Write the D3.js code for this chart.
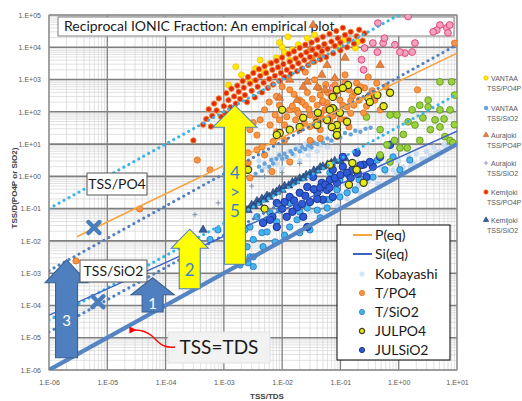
<!DOCTYPE html>
<html>
<head>
<meta charset="utf-8">
<script src="https://cdn.jsdelivr.net/npm/d3@7"></script>
<style>
body { margin: 0; background: #fff; }
svg text { font-family: "Liberation Sans", Arial, sans-serif; }
.note { font-family: Lato, "Open Sans", sans-serif; }
</style>
</head>
<body>
<svg id="chart" width="522" height="401"></svg>
<script>
// tick values
var xTicks = [1e-6, 1e-5, 1e-4, 1e-3, 1e-2, 1e-1, 1, 10];
var yTicks = [1e-6, 1e-5, 1e-4, 1e-3, 1e-2, 1e-1, 1, 10, 100, 1e3, 1e4, 1e5];

// points: [TSS/TDS, TSS/D]
var kemijokiPO4 = [
  [3e-4,13],[4.4e-4,40],[5e-4,60],[5.5e-4,120],[6e-4,35],[6.3e-4,75],[6.8e-4,180],[7.5e-4,110],[8.2e-4,260],[9e-4,70],
  [1e-3,150],[1.05e-3,90],[1.1e-3,380],[1.2e-3,230],[1.3e-3,140],[1.35e-3,520],[1.5e-3,300],[1.6e-3,180],[1.7e-3,650],[1.8e-3,420],
  [1.9e-3,250],[2.1e-3,900],[2.2e-3,560],[2.3e-3,330],[2.5e-3,200],[2.6e-3,1200],[2.8e-3,750],[3e-3,450],[3.2e-3,1600],[3.4e-3,280],
  [3.5e-3,950],[3.8e-3,600],[4e-3,2100],[4.2e-3,1300],[4.5e-3,400],[4.8e-3,800],[5e-3,2600],[5.3e-3,1600],[5.7e-3,550],[6e-3,1050],
  [6.5e-3,3200],[6.8e-3,2000],[7e-3,700],[7.5e-3,1300],[8e-3,3800],[8.5e-3,2400],[9e-3,900],[9.5e-3,1600],[1e-2,4800],[1.05e-2,3000],
  [1.1e-2,1200],[1.2e-2,2000],[1.3e-2,6200],[1.35e-2,3600],[1.4e-2,1500],[1.5e-2,2500],[1.6e-2,7500],[1.7e-2,4500],[1.8e-2,1800],[1.9e-2,3200],
  [2e-2,9500],[2.1e-2,5600],[2.2e-2,2200],[2.4e-2,4000],[2.5e-2,12000],[2.6e-2,7000],[2.8e-2,2800],[3e-2,5000],[3.2e-2,14000],[3.3e-2,8500],
  [3.5e-2,3500],[3.8e-2,6000],[4e-2,17000],[4.2e-2,10000],[4.5e-2,4200],[4.8e-2,7500],[5e-2,21000],[5.3e-2,12500],[5.7e-2,5000],[6e-2,9000],
  [6.5e-2,26000],[7e-2,15000],[7.5e-2,6500],[8e-2,11000],[8.5e-2,32000],[9e-2,19000],[0.1,8000],[0.1,14000],[0.11,40000],[0.12,24000],
  [0.13,10000],[0.14,17000],[0.15,30000],[0.17,13000],[0.19,22000],[0.21,35000],[0.24,16000],[0.26,27000]
];
var vantaaPO4 = [
  [1.2e-3,680],[2e-3,1400],[2.8e-3,850],[4.2e-3,4000],[5e-3,1700],[6.2e-3,3200],[8e-3,4700],[9e-3,14000],[1e-2,10000],[1.1e-2,7000],
  [1.26e-2,21000],[1.35e-2,4000],[1.5e-2,8300],[1.9e-2,12000],[2.7e-2,19000],[3.6e-2,24000],[9e-2,10000],[0.12,17000],[0.18,9500],[0.2,15000],
  [1.6e-3,2500],[3.5e-3,2200]
];
var aurajokiPO4 = [
  [3e-2,8300],[4.8e-2,5800],[3.4e-2,4000],[5.9e-2,2800],[4.8e-2,1400],[2.7e-2,850],[4e-2,590],[1.8e-2,230],[2.3e-2,590],[9e-3,270],
  [1.35e-2,980],[8e-2,1100],[0.12,4700],[5.4e-2,480],[0.48,2800],[3.4e-2,49000]
];
var pinkSet = [
  [1.45,90000],[0.44,56000],[0.54,13500],[0.26,9500],[0.25,2000],[0.43,7100],[1.28,6600],[1.7,7100],[1.9,13500],[5.1,49000],
  [6.7,40000],[4.5,34000],[7.5,49000],[7,28000],[3.9,30000],[0.57,19000],[0.36,13500],[0.23,4100],[0.86,12000],[1.05,7100],
  [7.4e-2,550],[5e-2,200]
];
var tPO4 = [
  [2.9e-6,2.4e-3],[3.6e-5,0.098],[3.5e-4,3.2],[5.8e-4,1.6],[2.6e-3,2.6],[2.8e-3,0.9],[3.7e-3,6.6],[4.5e-3,8.2],[5e-3,4.6],[6.7e-3,1.4],
  [1.35e-2,2.8],[2.8e-3,28],[3.7e-3,19],[3.2e-3,46],[2.6e-3,5.4],[9e-3,56],[8.1e-3,24],[5.9e-2,190],[0.19,780],[0.42,780],
  [0.71,390],[2.1,480],[0.13,140],[0.25,93],[0.14,34],[8.7e-2,17],[1.35e-2,115],[2e-2,230],[3e-2,80],[4.5e-2,330],
  [6.6e-2,56],[9.8e-2,230],[0.14,480],[0.21,230],[0.32,330],[2e-2,28],[3e-2,13],[4.5e-2,28],[1.1e-2,13],[6.2e-3,39],
  [1.7e-2,56],[3.6e-2,39],[5.4e-2,115],[8.1e-2,680],[0.12,1400],[0.26,550],[0.39,230],[0.48,115],[1.35e-2,480],[2.5e-2,1700],
  [3.6e-2,980],[9e-3,160],[5e-3,115],[4.2e-3,56],[9.1,13500],[2.5e-2,160],[8.1e-2,115],[0.12,56],[0.17,160],[1.1e-2,39],
  [7.6e-3,80],[6e-2,400],[0.1,60],[4e-2,160],[1.8e-2,110],[0.3,1200],[0.6,600],[0.08,330],[0.16,300],[0.05,60],
  [0.022,70],[0.007,12],[0.045,15],[0.03,35],
  [1.2e-2,70],[1.5e-2,150],[1.6e-2,350],[1.9e-2,90],[2.2e-2,200],[2.4e-2,45],[2.7e-2,400],[2.9e-2,120],[3.3e-2,250],[3.8e-2,60],
  [4.2e-2,550],[4.6e-2,90],[5e-2,220],[5.6e-2,700],[6.2e-2,140],[7e-2,300],[7.5e-2,75],[9e-2,450],[0.11,160],[0.12,800],
  [0.15,90],[0.18,400],[0.22,600],[0.28,150],[0.35,450],[0.15,220],[8e-3,300],[6e-3,200],[1e-2,600]
];
var julPO4 = [
  [0.135,680],[8.7e-2,480],[7.4e-2,130],[0.43,330],[0.71,390],[0.3,270],[0.13,49],[8.7e-2,28],[0.32,200],[0.11,550],
  [7.4e-2,290],[6.6e-2,115],[9.8e-2,93],[4.1e-2,93],[4e-2,46],[5.9e-2,56],[8.7e-2,39],[2.3e-2,65],[9.1e-3,22],[8.1e-3,19],
  [1.35e-2,28],[2e-2,34],[4e-2,39],[7.1e-2,34],[8.7e-2,19],[2.6e-3,1.6],[6.6e-2,2.3],[5e-3,0.1],[0.25,0.63],[0.14,0.55],
  [0.19,1.6],[0.16,2.6],[1e-2,115],[0.2,450],[0.55,150]
];
var limeSet = [
  [5.1,850],[3.2,230],[2.3,160],[1.7,115],[0.93,80],[0.71,80],[1.45,49],[1.9,39],[2.6,65],[3.5,28],
  [5.1,34],[6.2,17],[7.6,13],[8.5,11],[5.1,115],[7.6,115],[0.28,69],[0.48,28],[0.85,13],[1.05,7.6],
  [0.63,9.5],[0.48,4.6],[0.71,2.8],[1.4,7.6],[8.1,850],[3.2,140],[2.3,13],[4.2,56],[9.1,330],[6,60],
  [9,40],[1.2,20]
];
var kobayashi = [
  [4e-3,3],[5e-3,2],[5e-3,5],[6e-3,1.5],[7e-3,3.5],[8e-3,2.5],[9e-3,5],[1e-2,1.8],[1.1e-2,3.5],[1.3e-2,6],
  [1.4e-2,2.5],[1.6e-2,4.5],[1.8e-2,8],[2e-2,3],[2.2e-2,6],[2.5e-2,10],[2.8e-2,4.5],[3e-2,7],[3.5e-2,12],[4e-2,6],
  [4.5e-2,9],[5e-2,15],[6e-2,8],[7e-2,12],[8e-2,18],[0.1,0.3],[0.12,0.6],[0.15,0.4],[0.18,0.9],[0.2,0.5],
  [0.25,1.2],[0.3,0.7],[0.35,1.5],[0.4,1],[0.5,2],[0.6,1.3],[0.7,2.5],[0.8,1.6],[1,3],[1.2,2],
  [1.5,4],[1.8,2.5],[2,5],[2.5,3.5],[3,6],[3.5,4.5],[4,8],[5,6],[6,10],[7,8],
  [8,12],[3e-2,0.08],[5e-2,0.15],[7e-2,0.2],[0.09,0.12],[0.13,0.2],[0.22,0.3],[0.45,0.6],[0.9,1.2],[1.6,2],
  [2.8,3.5],[4.5,5.5],[6.5,7]
];
var vantaaSiO2 = [
  [3.5e-3,1.2],[4e-3,2],[4.5e-3,1.5],[5e-3,2.5],[6e-3,2],[6.5e-3,3.2],[7e-3,2.5],[8e-3,3.5],[9e-3,4.5],[1e-2,3.5],
  [1.1e-2,5],[1.2e-2,4],[1.4e-2,6],[1.5e-2,5],[1.7e-2,7],[2e-2,6],[2.2e-2,8],[2.5e-2,7],[2.8e-2,9],[3.2e-2,8],
  [3.5e-2,11],[4e-2,10],[4.5e-2,13],[5e-2,11],[6e-2,15],[7e-2,13],[8e-2,18],[0.1,16],[0.12,22],[0.15,20],
  [0.18,26],[0.22,24],[0.27,30],[0.33,32]
];
var kemijokiSiO2 = [
  [4.4e-4,0.022],[2e-3,0.07],[2.3e-3,0.1],[2.6e-3,0.09],[3e-3,0.13],[3.3e-3,0.12],[3.7e-3,0.17],[4e-3,0.15],[4.5e-3,0.2],[5e-3,0.19],
  [5.5e-3,0.25],[6e-3,0.23],[7e-3,0.3],[8e-3,0.33],[9e-3,0.4],[1e-2,0.38],[1.1e-2,0.5],[1.3e-2,0.52],[1.5e-2,0.65],[1.7e-2,0.7],
  [2e-2,0.85],[2.3e-2,0.9],[2.6e-2,1.1],[3e-2,1.2],[3.5e-2,1.5],[4e-2,1.5],[4.5e-2,1.9],[5e-2,2],[6e-2,2.3],[7e-2,2.6],
  [8e-2,3],[0.1,3],[0.12,3.6]
];
var tSiO2 = [
  [6.2e-3,0.074],[8.1e-3,0.039],[1.35e-2,0.027],[1.8e-2,0.045],[2.7e-2,0.105],[4e-2,0.09],[5.9e-2,0.19],[9.8e-2,0.23],[3.7e-3,0.056],[2.8e-3,0.027],
  [4.5e-3,0.018],[4.7e-3,6.6e-3],[3.2e-3,0.011],[2.1e-3,6.2e-3],[1.7e-3,3.2e-3],[2.8e-3,3.2e-3],[5.5e-3,0.019],[2e-2,0.018],[3e-2,0.022],[5.9e-2,0.105],
  [7.9e-4,0.022],[5.8e-4,0.011],[5.5e-3,0.045],[9.1e-3,0.09],[1.35e-2,0.15],[6.6e-2,1.3],[9.8e-2,0.78],[0.145,0.95],[0.21,0.78],[0.36,0.95],
  [8.7e-2,0.38],[0.13,0.31],[6.6e-2,0.19],[0.43,3.2],[0.8,4],[0.36,2.6],[1.05,1.6],[2.3e-3,0.022],[2.5e-3,6.6e-3],[3.2e-3,3.2e-3],
  [2.6e-3,2.1e-3],[3.2e-3,1.6e-3],[2.3e-4,3.7e-3],[4.5e-2,0.052],[1.1e-2,0.015],[7.6e-3,9.3e-3],[2e-2,0.079],[0.18,0.38],[0.58,1.6],[1.55,3.2],
  [1.3e-3,6.2e-3],[1.9e-3,1.8e-3]
];
var julSiO2 = [
  [3.4e-2,0.96],[4.8e-2,0.63],[6.6e-2,0.78],[2.7e-2,0.47],[2e-2,0.31],[4e-2,0.31],[5.9e-2,0.38],[1.35e-2,0.23],[8.1e-3,0.15],[1e-2,0.1],
  [1.8e-2,0.11],[3e-2,0.16],[5e-2,0.19],[7.4e-2,0.23],[6.8e-3,0.056],[1.2e-2,0.056],[2.3e-2,0.056],[4.7e-3,0.036],[8.1e-3,0.027],[6.2e-3,0.045],
  [2.7e-2,0.027],[7.4e-2,1.6],[0.11,2],[0.16,1.6],[0.25,2.3],[0.36,2],[0.48,4],[0.71,9.5],[0.28,0.96],[8.7e-2,0.63],
  [0.11,4],[0.19,5.4],[0.32,2.8],[1.6e-2,0.18],[2.5e-2,0.25],[3.5e-2,0.4],[4.5e-2,0.45],[5.5e-2,0.55],[6.5e-2,0.45],[8e-2,0.9],
  [0.1,1.1],[0.13,1.3],[0.15,0.9],[0.2,1.2],[0.22,2.2],[1.1e-2,0.16],[1.5e-2,0.08],[2.2e-2,0.14],[4e-2,0.2]
];
var aurajokiSiO2 = [
  [3.2e-4,0.065],[8e-4,0.15],[1.5e-3,0.35],[3e-3,0.5],[5e-3,1],[1e-2,1.3],[2e-2,2.5]
];

// reference lines: [start, end]
var lineTSSTDS = [[1e-6,1e-6],[10,10]];
var lineSiEq = [[1e-6,5e-5],[10,25]];
var linePEq = [[3e-6,0.0135],[10,6600]];
var dotLightTop = [[1e-6,0.1],[1,1e5]];
var dotLightLow = [[1e-6,3.5e-5],[10,350]];
var dotSteelTop = [[1e-6,1.2e-3],[10,1.2e4]];
var dotSteelLow = [[1e-6,1.5e-5],[1e-2,0.15]];

// annotation crosses and block arrows (data coordinates)
var crossMarks = [[5.9e-6,0.026],[6.9e-6,1.3e-4]];
var arrowSpecs = [
  {x: 2e-6, from: 2.4e-6, to: 2.6e-3, label: ['3'], kind: 'blue', shaft: 22, head: 43, headLen: 23},
  {x: 6e-5, from: 6.3e-5, to: 7.2e-4, label: ['1'], kind: 'blue', shaft: 21, head: 43, headLen: 17},
  {x: 2.6e-4, from: 3.3e-4, to: 0.023, label: ['2'], kind: 'yellow', shaft: 21, head: 37, headLen: 19},
  {x: 1.55e-3, from: 1.9e-3, to: 160, label: ['4', '>', '5'], kind: 'yellow', shaft: 21, head: 44, headLen: 22}
];

var svg = d3.select('#chart');
var plotLeft = 49, plotRight = 457, plotTop = 15, plotBottom = 370;

var x = d3.scaleLog().domain([1e-6, 10]).range([plotLeft, plotRight]);
var y = d3.scaleLog().domain([1e-6, 1e5]).range([plotBottom, plotTop]);

function fmtE(v){
    var e = Math.round(Math.log10(v));
    var a = Math.abs(e);
    return '1.E' + (e < 0 ? '-' : '+') + (a < 10 ? '0' : '') + a;
}

function minorValues(ticks){
    var out = [];
    ticks.slice(0, -1).forEach(function(t){
        for (var m = 2; m < 10; m++) out.push(t * m);
    });
    return out;
}

svg.append('rect').attr('width', 522).attr('height', 401).attr('fill', '#fff');

svg.append('defs').append('clipPath').attr('id', 'plotclip')
    .append('rect').attr('x', plotLeft).attr('y', plotTop)
    .attr('width', plotRight - plotLeft).attr('height', plotBottom - plotTop);

// grid
var grid = svg.append('g');
grid.selectAll('line.vmin').data(minorValues(xTicks)).enter().append('line')
    .attr('x1', x).attr('x2', x).attr('y1', plotTop).attr('y2', plotBottom)
    .attr('stroke', '#d4d4d4').attr('stroke-width', 0.7);
grid.selectAll('line.hmin').data(minorValues(yTicks)).enter().append('line')
    .attr('y1', y).attr('y2', y).attr('x1', plotLeft).attr('x2', plotRight)
    .attr('stroke', '#d4d4d4').attr('stroke-width', 0.7);
grid.selectAll('line.vmaj').data(xTicks).enter().append('line')
    .attr('x1', x).attr('x2', x).attr('y1', plotTop).attr('y2', plotBottom)
    .attr('stroke', '#7f7f7f').attr('stroke-width', 1.3);
grid.selectAll('line.hmaj').data(yTicks).enter().append('line')
    .attr('y1', y).attr('y2', y).attr('x1', plotLeft).attr('x2', plotRight)
    .attr('stroke', '#7f7f7f').attr('stroke-width', 1.6);
grid.append('rect').attr('x', plotLeft).attr('y', plotTop)
    .attr('width', plotRight - plotLeft).attr('height', plotBottom - plotTop)
    .attr('fill', 'none').attr('stroke', '#9a9a9a').attr('stroke-width', 1);

// axes
var xAxis = svg.append('g').attr('transform', 'translate(0,' + (plotBottom + 7) + ')')
    .call(d3.axisBottom(x).tickValues(xTicks).tickFormat(fmtE).tickSize(0));
var yAxis = svg.append('g').attr('transform', 'translate(' + (plotLeft - 5) + ',0)')
    .call(d3.axisLeft(y).tickValues(yTicks).tickFormat(fmtE).tickSize(0));
[xAxis, yAxis].forEach(function(a){
    a.select('.domain').remove();
    a.selectAll('text').attr('fill', '#595959')
        .style('font-family', '"Liberation Sans Narrow", "Liberation Sans", sans-serif')
        .style('font-size', '7px');
});

svg.append('text').attr('x', 267).attr('y', 399).attr('text-anchor', 'middle')
    .attr('font-size', 8).attr('font-weight', 'bold').attr('fill', '#404040')
    .text('TSS/TDS');
svg.append('text').attr('transform', 'translate(17,188) rotate(-90)')
    .attr('text-anchor', 'middle').attr('font-size', 8).attr('font-weight', 'bold')
    .attr('fill', '#404040').text('TSS/D(PO4P or SiO2)');

// title box
svg.append('rect').attr('x', 58).attr('y', 17).attr('width', 396).attr('height', 19)
    .attr('fill', '#fff').attr('stroke', '#7f7f7f').attr('stroke-width', 1);
svg.append('text').attr('class', 'note').attr('x', 64).attr('y', 31)
    .attr('font-size', 14).attr('fill', '#1a1a1a')
    .text('Reciprocal IONIC Fraction: An empirical plot');

// marker styles
var styles = {
    kobayashi:  {shape: 'circle', r: 2.6, fill: '#c8ddf2', stroke: 'none', sw: 0},
    vantaaSiO2: {shape: 'circle', r: 2.2, fill: '#6aa3d8', stroke: 'none', sw: 0},
    aurajokiSiO2: {shape: 'plus', r: 2.5, fill: 'none', stroke: '#7f8fa6', sw: 1},
    tSiO2:      {shape: 'circle', r: 3.2, fill: '#41b6ee', stroke: '#2872c0', sw: 0.8},
    kemijokiSiO2: {shape: 'triangle', r: 3.4, fill: '#36609e', stroke: '#1f3864', sw: 0.6},
    julSiO2:    {shape: 'circle', r: 3.7, fill: '#2f5ad8', stroke: '#1b3590', sw: 1},
    limeSet:    {shape: 'circle', r: 3.4, fill: '#9bd040', stroke: '#5f9a1c', sw: 0.9},
    pinkSet:    {shape: 'circle', r: 3.4, fill: '#f4a2bd', stroke: '#df467c', sw: 1},
    tPO4:       {shape: 'circle', r: 3.1, fill: '#f7964a', stroke: '#e36c0a', sw: 0.8},
    aurajokiPO4: {shape: 'triangle', r: 3.4, fill: '#e8823c', stroke: '#b85a1c', sw: 0.6},
    vantaaPO4:  {shape: 'circle', r: 3, fill: '#ffe900', stroke: '#f0c000', sw: 0.8},
    kemijokiPO4: {shape: 'circle', r: 2.7, fill: '#e2290b', stroke: '#f4822e', sw: 0.9},
    julPO4:     {shape: 'circle', r: 3.6, fill: '#e4ea1c', stroke: '#3d3d1a', sw: 1.2}
};

var layers = [
    [kobayashi, styles.kobayashi],
    [vantaaSiO2, styles.vantaaSiO2],
    [aurajokiSiO2, styles.aurajokiSiO2],
    [tSiO2, styles.tSiO2],
    [kemijokiSiO2, styles.kemijokiSiO2],
    [julSiO2, styles.julSiO2],
    [limeSet, styles.limeSet],
    [pinkSet, styles.pinkSet],
    [vantaaPO4, styles.vantaaPO4],
    [tPO4, styles.tPO4],
    [aurajokiPO4, styles.aurajokiPO4],
    [kemijokiPO4, styles.kemijokiPO4],
    [julPO4, styles.julPO4]
];

function markerPath(st){
    if (st.shape === 'plus') {
        return 'M' + (-st.r) + ',0H' + st.r + 'M0,' + (-st.r) + 'V' + st.r;
    }
    if (st.shape === 'triangle') {
        return d3.symbol().type(d3.symbolTriangle).size(st.r * st.r * 2.6)();
    }
    return d3.symbol().type(d3.symbolCircle).size(Math.PI * st.r * st.r)();
}

function drawMarkers(g, data, st){
    g.append('g').selectAll('path').data(data).enter().append('path')
        .attr('d', markerPath(st))
        .attr('transform', function(d){ return 'translate(' + x(d[0]) + ',' + y(d[1]) + ')'; })
        .attr('fill', st.fill).attr('stroke', st.stroke).attr('stroke-width', st.sw);
}

var plot = svg.append('g').attr('clip-path', 'url(#plotclip)');
layers.forEach(function(l){ drawMarkers(plot, l[0], l[1]); });

// lines
var lineGen = d3.line().x(function(d){ return x(d[0]); }).y(function(d){ return y(d[1]); });
function drawLine(pts, color, width, dotted){
    var p = plot.append('path').attr('d', lineGen(pts)).attr('fill', 'none')
        .attr('stroke', color).attr('stroke-width', width);
    if (dotted) p.attr('stroke-dasharray', '0.1,5.6').attr('stroke-linecap', 'round');
    return p;
}
drawLine(dotLightTop, '#38b4e6', 3, true);
drawLine(dotLightLow, '#38b4e6', 3, true);
drawLine(dotSteelTop, '#4f7fbd', 3, true);
drawLine(dotSteelLow, '#4f7fbd', 3, true);
drawLine(linePEq, '#f5a443', 1.6, false);
drawLine(lineSiEq, '#3d62c8', 1.4, false);
drawLine(lineTSSTDS, '#5585c2', 4.2, false);

// crosses
crossMarks.forEach(function(d){
    var cx = x(d[0]), cy = y(d[1]), s = 5.5;
    plot.append('path')
        .attr('d', 'M' + (cx - s) + ',' + (cy - s) + 'L' + (cx + s) + ',' + (cy + s) +
                   'M' + (cx + s) + ',' + (cy - s) + 'L' + (cx - s) + ',' + (cy + s))
        .attr('stroke', '#4a7ebb').attr('stroke-width', 4.5).attr('stroke-linecap', 'round');
});

// block arrows
function arrowPath(cx, yb, yt, sw, hw, hl){
    return 'M' + (cx - sw / 2) + ',' + yb + 'V' + (yt + hl) + 'H' + (cx - hw / 2) +
        'L' + cx + ',' + yt + 'L' + (cx + hw / 2) + ',' + (yt + hl) +
        'H' + (cx + sw / 2) + 'V' + yb + 'Z';
}
arrowSpecs.forEach(function(a){
    var cx = x(a.x), yb = y(a.from), yt = y(a.to);
    var blue = a.kind === 'blue';
    svg.append('path').attr('d', arrowPath(cx, yb, yt, a.shaft, a.head, a.headLen))
        .attr('fill', blue ? '#4f7fbe' : '#ffff00')
        .attr('stroke', blue ? '#3a6394' : '#4f7fbd').attr('stroke-width', 1.1);
    var n = a.label.length;
    var mid = blue ? (yt + a.headLen + yb) / 2 : (n > 1 ? 192 : (yt + a.headLen + yb) / 2 + 2);
    a.label.forEach(function(t, i){
        svg.append('text').attr('class', 'note')
            .attr('x', cx).attr('y', mid + (i - (n - 1) / 2) * 19 + 6)
            .attr('text-anchor', 'middle').attr('font-size', blue ? 15 : 17)
            .attr('fill', blue ? '#ffffff' : '#3b7fcc').text(t);
    });
});

// labelled boxes
function noteBox(bx, by, bw, bh, label, size, fill, stroke){
    svg.append('rect').attr('x', bx).attr('y', by).attr('width', bw).attr('height', bh)
        .attr('fill', fill).attr('stroke', stroke).attr('stroke-width', 1);
    svg.append('text').attr('class', 'note').attr('x', bx + bw / 2).attr('y', by + bh / 2 + size * 0.36)
        .attr('text-anchor', 'middle').attr('font-size', size).attr('fill', '#1a1a1a').text(label);
}
noteBox(87, 173, 60, 22, 'TSS/PO4', 14, '#fff', '#555');
noteBox(80, 260, 67, 22, 'TSS/SiO2', 14, '#fff', '#555');
noteBox(168, 332, 102, 31, 'TSS=TDS', 19, '#f2f2f2', '#e0e0e0');

// red pointer
svg.append('defs').append('marker').attr('id', 'redhead')
    .attr('viewBox', '0 0 10 10').attr('refX', 2).attr('refY', 5)
    .attr('markerWidth', 5).attr('markerHeight', 5).attr('orient', 'auto')
    .append('path').attr('d', 'M10,0L0,5L10,10Z').attr('fill', '#ff0000');
svg.append('path').attr('d', 'M175,347 C162,349 158,341 152,336 C146,331 141,330 135,330')
    .attr('fill', 'none').attr('stroke', '#ff0000').attr('stroke-width', 1.4)
    .attr('marker-end', 'url(#redhead)');

// inner legend
var innerLegend = [
    {label: 'P(eq)', line: '#f5a443'},
    {label: 'Si(eq)', line: '#3d62c8'},
    {label: 'Kobayashi', st: styles.kobayashi},
    {label: 'T/PO4', st: styles.tPO4},
    {label: 'T/SiO2', st: styles.tSiO2},
    {label: 'JULPO4', st: styles.julPO4},
    {label: 'JULSiO2', st: styles.julSiO2}
];
var innerY = [235, 254, 274, 293, 312, 331, 350];
svg.append('rect').attr('x', 337).attr('y', 225).attr('width', 113).attr('height', 135)
    .attr('fill', '#fff').attr('stroke', '#000').attr('stroke-width', 1);
innerLegend.forEach(function(item, i){
    var ly = innerY[i];
    if (item.line) {
        svg.append('line').attr('x1', 353).attr('x2', 372).attr('y1', ly).attr('y2', ly)
            .attr('stroke', item.line).attr('stroke-width', 2);
    } else {
        var st = Object.assign({}, item.st, {r: 2.6});
        svg.append('path').attr('d', markerPath(st)).attr('transform', 'translate(362,' + ly + ')')
            .attr('fill', st.fill === '#c8ddf2' ? '#d6e6f5' : st.fill)
            .attr('stroke', st.stroke).attr('stroke-width', st.sw);
    }
    svg.append('text').attr('class', 'note').attr('x', 375).attr('y', ly + 5)
        .attr('font-size', 14).attr('fill', '#1a1a1a').text(item.label);
});

// outer legend
var outerLegend = [
    {l1: 'VANTAA', l2: 'TSS/PO4P', y: 78, st: styles.vantaaPO4},
    {l1: 'VANTAA', l2: 'TSS/SiO2', y: 108, st: styles.vantaaSiO2},
    {l1: 'Aurajoki', l2: 'TSS/PO4P', y: 135, st: styles.aurajokiPO4},
    {l1: 'Aurajoki', l2: 'TSS/SiO2', y: 163, st: styles.aurajokiSiO2},
    {l1: 'Kemijoki', l2: 'TSS/PO4P', y: 192, st: styles.kemijokiPO4},
    {l1: 'Kemijoki', l2: 'TSS/SiO2', y: 220, st: styles.kemijokiSiO2}
];
outerLegend.forEach(function(item){
    var st = Object.assign({}, item.st, {r: 2.2});
    svg.append('path').attr('d', markerPath(st)).attr('transform', 'translate(486,' + item.y + ')')
        .attr('fill', st.fill).attr('stroke', st.stroke).attr('stroke-width', Math.min(st.sw, 0.8));
    svg.append('text').attr('x', 491).attr('y', item.y + 2.5)
        .style('font-family', '"Liberation Sans Narrow", "Liberation Sans", sans-serif')
        .attr('font-size', 7).attr('fill', '#595959').text(item.l1);
    svg.append('text').attr('x', 487).attr('y', item.y + 13)
        .style('font-family', '"Liberation Sans Narrow", "Liberation Sans", sans-serif')
        .attr('font-size', 7).attr('fill', '#595959').text(item.l2);
});
</script>
</body>
</html>
